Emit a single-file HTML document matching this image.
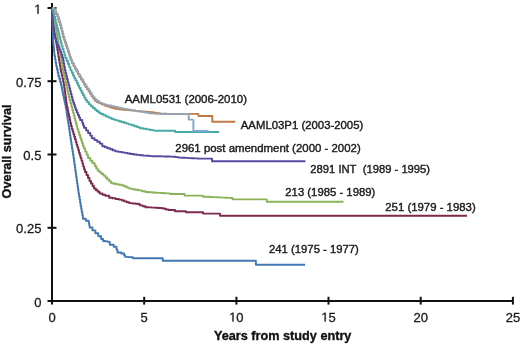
<!DOCTYPE html>
<html><head><meta charset="utf-8"><style>
html,body{margin:0;padding:0;background:#fff;}
body{width:520px;height:344px;overflow:hidden;}
svg{display:block;filter:blur(0.4px);}
text{font-family:"Liberation Sans",sans-serif;}
</style></head><body>
<svg width="520" height="344" viewBox="0 0 520 344">
<rect width="520" height="344" fill="#fff"/>
<g stroke="#111" stroke-width="2" fill="none">
<line x1="52" y1="3" x2="52" y2="302"/>
<line x1="51" y1="301" x2="513" y2="301"/>
<line x1="47.5" y1="8.0" x2="56.5" y2="8.0"/><line x1="47.5" y1="81.2" x2="56.5" y2="81.2"/><line x1="47.5" y1="154.5" x2="56.5" y2="154.5"/><line x1="47.5" y1="227.8" x2="56.5" y2="227.8"/><line x1="47.5" y1="301.0" x2="56.5" y2="301.0"/><line x1="52.0" y1="296.8" x2="52.0" y2="304.6"/><line x1="144.2" y1="296.8" x2="144.2" y2="304.6"/><line x1="236.4" y1="296.8" x2="236.4" y2="304.6"/><line x1="328.5" y1="296.8" x2="328.5" y2="304.6"/><line x1="420.7" y1="296.8" x2="420.7" y2="304.6"/><line x1="512.9" y1="296.8" x2="512.9" y2="304.6"/>
</g>
<g fill="none" stroke-width="1.9" stroke-linejoin="round" stroke-linecap="butt">
<path d="M52.0 8.0 L52.1 8.0 L52.1 11.0 L52.1 11.0 L52.1 14.0 L52.2 14.0 L52.2 17.0 L52.3 17.0 L52.3 20.0 L52.4 20.0 L52.4 23.0 L52.5 23.0 L52.5 26.0 L52.6 26.0 L52.6 29.0 L52.7 29.0 L52.7 32.0 L52.9 32.0 L52.9 35.2 L53.0 35.2 L53.0 38.5 L53.2 38.5 L53.2 41.8 L53.4 41.8 L53.4 45.0 L53.7 45.0 L53.7 47.8 L54.0 47.8 L54.0 50.5 L54.2 50.5 L54.2 53.2 L54.5 53.2 L54.5 56.0 L55.1 56.0 L55.1 59.3 L55.6 59.3 L55.6 62.7 L56.2 62.7 L56.2 66.0 L56.9 66.0 L56.9 69.3 L57.7 69.3 L57.7 72.7 L58.4 72.7 L58.4 76.0 L59.3 76.0 L59.3 79.0 L60.1 79.0 L60.1 82.0 L61.0 82.0 L61.0 85.0 L61.6 85.0 L61.6 87.8 L62.1 87.8 L62.1 90.5 L62.7 90.5 L62.7 93.2 L63.3 93.2 L63.3 96.0 L63.9 96.0 L63.9 98.9 L64.5 98.9 L64.5 101.8 L65.1 101.8 L65.1 104.6 L65.7 104.6 L65.7 107.5 L66.1 107.5 L66.1 110.1 L66.6 110.1 L66.6 112.8 L67.0 112.8 L67.0 115.4 L67.4 115.4 L67.4 118.0 L67.8 118.0 L67.8 120.7 L68.2 120.7 L68.2 123.3 L68.6 123.3 L68.6 126.0 L69.1 126.0 L69.1 129.2 L69.6 129.2 L69.6 132.4 L70.0 132.4 L70.0 135.6 L70.5 135.6 L70.5 138.8 L71.0 138.8 L71.0 142.0 L71.5 142.0 L71.5 145.2 L72.0 145.2 L72.0 148.4 L72.5 148.4 L72.5 151.6 L73.0 151.6 L73.0 154.8 L73.5 154.8 L73.5 158.0 L74.0 158.0 L74.0 161.2 L74.4 161.2 L74.4 164.4 L74.9 164.4 L74.9 167.6 L75.3 167.6 L75.3 170.8 L75.8 170.8 L75.8 174.0 L76.2 174.0 L76.2 177.2 L76.7 177.2 L76.7 180.4 L77.1 180.4 L77.1 183.6 L77.6 183.6 L77.6 186.8 L78.0 186.8 L78.0 190.0 L78.5 190.0 L78.5 193.2 L79.0 193.2 L79.0 196.4 L79.6 196.4 L79.6 199.6 L80.1 199.6 L80.1 202.8 L80.6 202.8 L80.6 206.0 L81.2 206.0 L81.2 209.0 L81.7 209.0 L81.7 212.0 L82.3 212.0 L82.3 215.0 L82.9 215.0 L82.9 218.8 L85.8 218.8 L85.8 220.8 L88.7 220.8 L88.7 222.7 L89.2 222.7 L89.2 225.1 L89.6 225.1 L89.6 227.5 L92.5 227.5 L92.5 230.4 L95.4 230.4 L95.4 233.3 L98.3 233.3 L98.3 236.2 L101.2 236.2 L101.2 239.0 L103.1 239.0 L103.1 241.0 L105.5 241.0 L105.5 241.4 L107.9 241.4 L107.9 241.9 L109.8 241.9 L109.8 244.8 L113.7 244.8 L113.7 246.7 L116.5 246.7 L116.5 249.6 L117.5 249.6 L117.5 252.5 L121.3 252.5 L121.3 253.5 L124.2 253.5 L124.2 255.4 L125.2 255.4 L125.2 256.9 L128.1 256.9 L128.1 257.1 L131.0 257.1 L131.0 257.3 L132.9 257.3 L132.9 258.3 L161.7 258.3 L162.7 258.3 L162.7 260.7 L255.9 260.7 L255.9 264.8 L305.0 264.8" stroke="#4178b4"/>
<path d="M52.0 8.0 L52.3 8.0 L52.3 11.5 L52.6 11.5 L52.6 15.0 L52.8 15.0 L52.8 17.5 L53.0 17.5 L53.0 20.0 L53.3 20.0 L53.3 23.3 L53.7 23.3 L53.7 26.7 L54.0 26.7 L54.0 30.0 L54.5 30.0 L54.5 32.9 L54.9 32.9 L54.9 35.7 L55.4 35.7 L55.4 38.6 L55.9 38.6 L55.9 41.4 L56.4 41.4 L56.4 44.3 L56.8 44.3 L56.8 47.1 L57.3 47.1 L57.3 50.0 L57.9 50.0 L57.9 53.3 L58.4 53.3 L58.4 56.7 L59.0 56.7 L59.0 60.0 L59.5 60.0 L59.5 63.0 L60.0 63.0 L60.0 66.0 L60.5 66.0 L60.5 69.0 L61.0 69.0 L61.0 72.0 L61.7 72.0 L61.7 75.2 L62.4 75.2 L62.4 78.5 L63.1 78.5 L63.1 81.8 L63.8 81.8 L63.8 85.0 L64.2 85.0 L64.2 88.0 L64.7 88.0 L64.7 91.0 L65.1 91.0 L65.1 94.0 L65.5 94.0 L65.5 97.0 L65.9 97.0 L65.9 99.6 L66.2 99.6 L66.2 102.2 L66.6 102.2 L66.6 104.9 L67.0 104.9 L67.0 107.5 L67.7 107.5 L67.7 110.6 L68.3 110.6 L68.3 113.7 L69.0 113.7 L69.0 116.8 L69.7 116.8 L69.7 119.8 L70.3 119.8 L70.3 122.9 L71.0 122.9 L71.0 126.0 L71.8 126.0 L71.8 128.7 L72.6 128.7 L72.6 131.3 L73.4 131.3 L73.4 134.0 L74.2 134.0 L74.2 136.7 L75.0 136.7 L75.0 139.3 L75.8 139.3 L75.8 142.0 L76.6 142.0 L76.6 144.7 L77.4 144.7 L77.4 147.3 L78.2 147.3 L78.2 150.0 L79.0 150.0 L79.0 152.7 L79.8 152.7 L79.8 155.3 L80.6 155.3 L80.6 158.0 L81.5 158.0 L81.5 160.8 L82.4 160.8 L82.4 163.6 L83.2 163.6 L83.2 166.4 L84.1 166.4 L84.1 169.2 L85.0 169.2 L85.0 172.0 L86.5 172.0 L86.5 175.0 L88.0 175.0 L88.0 178.0 L89.5 178.0 L89.5 181.0 L91.0 181.0 L91.0 183.5 L92.5 183.5 L92.5 186.0 L94.0 186.0 L94.0 188.5 L95.9 188.5 L95.9 190.2 L97.7 190.2 L97.7 191.8 L99.6 191.8 L99.6 193.5 L102.5 193.5 L102.5 194.7 L105.4 194.7 L105.4 195.8 L109.2 195.8 L109.2 197.7 L112.4 197.7 L112.4 198.3 L115.6 198.3 L115.6 199.0 L118.8 199.0 L118.8 199.6 L122.0 199.6 L122.0 200.5 L124.4 200.5 L124.4 201.4 L126.8 201.4 L126.8 202.2 L129.2 202.2 L129.2 203.1 L132.3 203.1 L132.3 203.5 L135.4 203.5 L135.4 203.8 L138.5 203.8 L138.5 204.2 L140.0 204.2 L140.0 205.4 L142.7 205.4 L142.7 206.3 L145.4 206.3 L145.4 207.2 L148.6 207.2 L148.6 207.4 L151.8 207.4 L151.8 207.6 L155.1 207.6 L155.1 207.8 L158.3 207.8 L158.3 208.0 L161.5 208.0 L161.5 208.2 L163.8 208.2 L163.8 208.8 L166.0 208.8 L166.0 209.5 L168.5 209.5 L168.5 210.0 L175.0 210.0 L175.0 211.2 L186.0 211.2 L186.0 212.2 L203.1 212.2 L203.1 213.6 L220.0 213.6 L220.0 215.8 L467.0 215.8" stroke="#7d2a4e"/>
<path d="M52.0 8.0 L52.8 8.0 L52.8 12.0 L53.2 12.0 L53.2 14.7 L53.6 14.7 L53.6 17.3 L54.0 17.3 L54.0 20.0 L54.7 20.0 L54.7 23.3 L55.3 23.3 L55.3 26.7 L56.0 26.7 L56.0 30.0 L56.5 30.0 L56.5 32.9 L57.0 32.9 L57.0 35.7 L57.5 35.7 L57.5 38.6 L58.0 38.6 L58.0 41.4 L58.5 41.4 L58.5 44.3 L59.0 44.3 L59.0 47.1 L59.5 47.1 L59.5 50.0 L60.1 50.0 L60.1 53.3 L60.6 53.3 L60.6 56.7 L61.2 56.7 L61.2 60.0 L61.7 60.0 L61.7 63.3 L62.3 63.3 L62.3 66.7 L62.8 66.7 L62.8 70.0 L63.4 70.0 L63.4 73.0 L64.1 73.0 L64.1 76.0 L64.7 76.0 L64.7 79.0 L65.4 79.0 L65.4 82.0 L66.0 82.0 L66.0 85.0 L66.7 85.0 L66.7 88.0 L67.4 88.0 L67.4 91.0 L68.1 91.0 L68.1 94.0 L68.8 94.0 L68.8 97.0 L69.5 97.0 L69.5 100.0 L70.4 100.0 L70.4 103.3 L71.4 103.3 L71.4 106.7 L72.3 106.7 L72.3 110.0 L73.0 110.0 L73.0 112.7 L73.8 112.7 L73.8 115.5 L74.5 115.5 L74.5 118.2 L75.2 118.2 L75.2 121.0 L75.9 121.0 L75.9 123.7 L76.7 123.7 L76.7 126.5 L77.4 126.5 L77.4 129.2 L78.3 129.2 L78.3 131.9 L79.2 131.9 L79.2 134.7 L80.1 134.7 L80.1 137.4 L81.1 137.4 L81.1 140.2 L82.0 140.2 L82.0 142.9 L82.9 142.9 L82.9 145.7 L83.8 145.7 L83.8 148.4 L85.2 148.4 L85.2 151.6 L86.6 151.6 L86.6 154.8 L88.0 154.8 L88.0 158.0 L90.3 158.0 L90.3 160.7 L92.5 160.7 L92.5 163.3 L94.8 163.3 L94.8 166.0 L96.2 166.0 L96.2 168.4 L97.7 168.4 L97.7 170.8 L99.6 170.8 L99.6 172.4 L101.6 172.4 L101.6 174.0 L103.5 174.0 L103.5 175.6 L105.4 175.6 L105.4 177.5 L107.3 177.5 L107.3 179.4 L109.3 179.4 L109.3 181.4 L111.2 181.4 L111.2 183.3 L113.7 183.3 L113.7 183.8 L116.3 183.8 L116.3 184.3 L118.8 184.3 L118.8 184.8 L122.0 184.8 L122.0 185.5 L124.4 185.5 L124.4 186.5 L126.8 186.5 L126.8 187.6 L129.2 187.6 L129.2 188.6 L132.3 188.6 L132.3 189.2 L135.4 189.2 L135.4 189.8 L138.5 189.8 L138.5 190.4 L141.9 190.4 L141.9 191.2 L145.4 191.2 L145.4 192.0 L148.7 192.0 L148.7 192.2 L152.0 192.2 L152.0 192.5 L154.8 192.5 L154.8 192.7 L157.7 192.7 L157.7 192.9 L160.5 192.9 L160.5 193.0 L163.4 193.0 L163.4 193.2 L166.2 193.2 L166.2 193.4 L170.0 193.4 L170.0 194.0 L184.6 194.0 L184.6 195.6 L203.1 195.6 L203.1 196.7 L206.2 196.7 L206.2 196.8 L209.3 196.8 L209.3 197.0 L212.3 197.0 L212.3 197.1 L215.4 197.1 L215.4 197.3 L218.5 197.3 L218.5 197.4 L221.6 197.4 L221.6 197.6 L224.6 197.6 L224.6 197.7 L227.7 197.7 L227.7 197.9 L230.8 197.9 L230.8 198.0 L232.5 198.0 L232.5 199.4 L266.8 199.4 L266.8 201.8 L343.5 201.8" stroke="#8cb35c"/>
<path d="M52.0 8.0 L52.2 8.0 L52.2 11.5 L52.5 11.5 L52.5 15.0 L52.7 15.0 L52.7 18.3 L52.8 18.3 L52.8 21.7 L53.0 21.7 L53.0 25.0 L53.3 25.0 L53.3 28.3 L53.7 28.3 L53.7 31.7 L54.0 31.7 L54.0 35.0 L55.0 35.0 L55.0 38.3 L56.0 38.3 L56.0 41.7 L57.0 41.7 L57.0 45.0 L58.2 45.0 L58.2 47.3 L59.3 47.3 L59.3 49.7 L60.5 49.7 L60.5 52.0 L61.3 52.0 L61.3 54.7 L62.2 54.7 L62.2 57.3 L63.0 57.3 L63.0 60.0 L63.6 60.0 L63.6 63.3 L64.2 63.3 L64.2 66.7 L64.8 66.7 L64.8 70.0 L65.5 70.0 L65.5 73.0 L66.3 73.0 L66.3 76.0 L67.0 76.0 L67.0 79.0 L67.8 79.0 L67.8 82.0 L68.5 82.0 L68.5 85.0 L69.3 85.0 L69.3 88.0 L70.1 88.0 L70.1 91.0 L70.8 91.0 L70.8 94.0 L71.6 94.0 L71.6 97.0 L72.4 97.0 L72.4 100.0 L73.2 100.0 L73.2 102.5 L74.1 102.5 L74.1 105.0 L74.9 105.0 L74.9 107.5 L75.7 107.5 L75.7 110.0 L76.8 110.0 L76.8 112.5 L77.9 112.5 L77.9 115.0 L79.0 115.0 L79.0 117.5 L80.1 117.5 L80.1 120.0 L82.2 120.0 L82.2 122.8 L83.1 122.8 L83.1 125.3 L84.0 125.3 L84.0 127.8 L86.1 127.8 L86.1 130.4 L88.1 130.4 L88.1 133.0 L90.2 133.0 L90.2 135.6 L91.9 135.6 L91.9 138.3 L94.5 138.3 L94.5 140.1 L97.2 140.1 L97.2 141.8 L99.8 141.8 L99.8 143.6 L102.3 143.6 L102.3 146.2 L104.9 146.2 L104.9 147.2 L107.5 147.2 L107.5 148.3 L110.2 148.3 L110.2 149.3 L112.8 149.3 L112.8 150.4 L115.4 150.4 L115.4 151.4 L118.5 151.4 L118.5 151.9 L121.5 151.9 L121.5 152.4 L124.5 152.4 L124.5 152.9 L127.6 152.9 L127.6 153.5 L130.6 153.5 L130.6 154.0 L133.7 154.0 L133.7 154.5 L136.8 154.5 L136.8 154.9 L140.0 154.9 L140.0 155.3 L143.2 155.3 L143.2 155.6 L146.4 155.6 L146.4 155.8 L149.6 155.8 L149.6 156.1 L152.5 156.1 L152.5 156.2 L155.4 156.2 L155.4 156.2 L158.3 156.2 L158.3 156.3 L161.1 156.3 L161.1 156.4 L164.0 156.4 L164.0 156.5 L166.9 156.5 L166.9 156.5 L169.8 156.5 L169.8 156.6 L172.7 156.6 L172.7 156.7 L175.6 156.7 L175.6 157.1 L178.5 157.1 L178.5 157.6 L181.7 157.6 L181.7 157.8 L184.9 157.8 L184.9 157.9 L188.1 157.9 L188.1 158.1 L191.3 158.1 L191.3 158.3 L194.5 158.3 L194.5 158.4 L197.7 158.4 L197.7 158.6 L212.0 158.6 L212.0 161.2 L305.4 161.2" stroke="#5847a0"/>
<path d="M52.0 8.0 L52.9 8.0 L52.9 10.8 L53.6 10.8 L53.6 13.7 L54.3 13.7 L54.3 16.6 L55.1 16.6 L55.1 19.5 L55.8 19.5 L55.8 22.4 L56.5 22.4 L56.5 25.3 L57.2 25.3 L57.2 28.2 L58.0 28.2 L58.0 31.2 L58.7 31.2 L58.7 34.1 L59.4 34.1 L59.4 37.0 L60.2 37.0 L60.2 39.9 L60.9 39.9 L60.9 42.8 L61.6 42.8 L61.6 45.7 L62.5 45.7 L62.5 48.8 L63.5 48.8 L63.5 51.9 L64.4 51.9 L64.4 54.9 L65.3 54.9 L65.3 58.0 L66.7 58.0 L66.7 61.0 L68.0 61.0 L68.0 64.0 L69.2 64.0 L69.2 67.1 L70.4 67.1 L70.4 70.2 L71.7 70.2 L71.7 72.8 L73.0 72.8 L73.0 75.5 L74.2 75.5 L74.2 78.0 L75.5 78.0 L75.5 80.4 L76.8 80.4 L76.8 83.0 L78.0 83.0 L78.0 85.5 L79.2 85.5 L79.2 88.0 L80.5 88.0 L80.5 90.5 L81.8 90.5 L81.8 92.9 L83.0 92.9 L83.0 95.3 L84.3 95.3 L84.3 97.8 L85.6 97.8 L85.6 100.3 L87.3 100.3 L87.3 102.3 L89.0 102.3 L89.0 104.4 L90.9 104.4 L90.9 106.2 L92.8 106.2 L92.8 108.0 L94.8 108.0 L94.8 109.7 L96.8 109.7 L96.8 111.3 L98.8 111.3 L98.8 112.7 L100.9 112.7 L100.9 114.0 L103.5 114.0 L103.5 115.2 L106.0 115.2 L106.0 116.5 L108.5 116.5 L108.5 117.6 L111.1 117.6 L111.1 118.7 L113.5 118.7 L113.5 119.6 L116.0 119.6 L116.0 120.4 L118.7 120.4 L118.7 121.2 L121.3 121.2 L121.3 122.0 L123.8 122.0 L123.8 122.8 L126.4 122.8 L126.4 123.6 L128.9 123.6 L128.9 124.4 L131.5 124.4 L131.5 125.2 L134.3 125.2 L134.3 126.2 L137.2 126.2 L137.2 127.2 L140.0 127.2 L140.0 128.2 L143.3 128.2 L143.3 128.8 L146.7 128.8 L146.7 129.4 L150.0 129.4 L150.0 130.0 L152.5 130.0 L152.5 130.4 L155.0 130.4 L155.0 130.8 L175.3 130.8 L175.3 132.0 L219.0 132.0" stroke="#48aaa4"/>
<path d="M52.0 8.0 L54.4 8.0 L54.4 10.8 L55.8 10.8 L55.8 13.7 L57.3 13.7 L57.3 16.6 L58.3 16.6 L58.3 19.5 L59.2 19.5 L59.2 22.4 L60.2 22.4 L60.2 25.3 L60.9 25.3 L60.9 28.2 L61.7 28.2 L61.7 31.1 L62.4 31.1 L62.4 34.1 L63.1 34.1 L63.1 37.0 L64.1 37.0 L64.1 39.9 L65.0 39.9 L65.0 42.8 L66.0 42.8 L66.0 45.7 L67.0 45.7 L67.0 48.6 L67.9 48.6 L67.9 51.5 L68.9 51.5 L68.9 54.4 L69.8 54.4 L69.8 57.2 L70.6 57.2 L70.6 60.0 L72.0 60.0 L72.0 63.0 L73.5 63.0 L73.5 66.0 L75.0 66.0 L75.0 68.8 L76.5 68.8 L76.5 71.5 L78.0 71.5 L78.0 74.2 L79.5 74.2 L79.5 77.0 L81.0 77.0 L81.0 79.5 L82.6 79.5 L82.6 82.0 L84.0 82.0 L84.0 84.5 L85.5 84.5 L85.5 87.0 L87.1 87.0 L87.1 89.2 L88.7 89.2 L88.7 91.5 L90.1 91.5 L90.1 93.9 L91.5 93.9 L91.5 96.3 L93.2 96.3 L93.2 98.5 L94.8 98.5 L94.8 100.7 L96.8 100.7 L96.8 102.0 L98.9 102.0 L98.9 103.2 L102.0 103.2 L102.0 104.5 L105.0 104.5 L105.0 105.8 L107.7 105.8 L107.7 106.6 L110.4 106.6 L110.4 107.5 L113.1 107.5 L113.1 108.3 L115.8 108.3 L115.8 108.7 L118.6 108.7 L118.6 109.2 L121.3 109.2 L121.3 109.6 L124.1 109.6 L124.1 109.9 L127.0 109.9 L127.0 110.1 L129.8 110.1 L129.8 110.4 L132.7 110.4 L132.7 110.6 L135.5 110.6 L135.5 110.9 L138.4 110.9 L138.4 111.2 L141.3 111.2 L141.3 111.4 L144.2 111.4 L144.2 111.7 L147.1 111.7 L147.1 111.9 L150.0 111.9 L150.0 112.2 L153.3 112.2 L153.3 112.7 L156.7 112.7 L156.7 113.1 L160.0 113.1 L160.0 113.6 L163.4 113.6 L163.4 113.8 L166.9 113.8 L166.9 113.9 L198.4 113.9 L198.4 116.0 L212.3 116.0 L212.3 121.8 L235.3 121.8" stroke="#bf7a48"/>
<path d="M52.0 8.0 L54.6 8.0 L54.6 10.6 L56.1 10.6 L56.1 13.4 L57.6 13.4 L57.6 16.3 L58.6 16.3 L58.6 19.2 L59.5 19.2 L59.5 22.1 L60.5 22.1 L60.5 25.0 L61.2 25.0 L61.2 27.9 L62.0 27.9 L62.0 30.9 L62.7 30.9 L62.7 33.8 L63.4 33.8 L63.4 36.7 L64.4 36.7 L64.4 39.6 L65.3 39.6 L65.3 42.5 L66.3 42.5 L66.3 45.4 L67.3 45.4 L67.3 48.3 L68.2 48.3 L68.2 51.2 L69.2 51.2 L69.2 54.1 L70.0 54.1 L70.0 57.0 L70.8 57.0 L70.8 60.0 L72.2 60.0 L72.2 63.0 L73.7 63.0 L73.7 66.0 L75.2 66.0 L75.2 68.7 L76.7 68.7 L76.7 71.3 L78.2 71.3 L78.2 73.9 L79.7 73.9 L79.7 76.5 L81.2 76.5 L81.2 79.0 L82.8 79.0 L82.8 81.5 L84.2 81.5 L84.2 84.0 L85.7 84.0 L85.7 86.5 L87.2 86.5 L87.2 88.5 L88.7 88.5 L88.7 90.5 L90.2 90.5 L90.2 93.0 L91.8 93.0 L91.8 95.6 L93.3 95.6 L93.3 97.5 L94.8 97.5 L94.8 99.5 L96.8 99.5 L96.8 101.0 L98.9 101.0 L98.9 102.6 L101.5 102.6 L101.5 103.6 L104.0 103.6 L104.0 104.6 L107.5 104.6 L107.5 105.4 L111.1 105.4 L111.1 106.3 L114.5 106.3 L114.5 107.0 L117.9 107.0 L117.9 107.7 L121.3 107.7 L121.3 108.4 L124.1 108.4 L124.1 108.9 L127.0 108.9 L127.0 109.4 L129.8 109.4 L129.8 109.9 L132.7 109.9 L132.7 110.4 L135.5 110.4 L135.5 110.9 L138.4 110.9 L138.4 111.4 L141.3 111.4 L141.3 111.9 L144.2 111.9 L144.2 112.4 L147.1 112.4 L147.1 112.9 L150.0 112.9 L150.0 113.4 L153.3 113.4 L153.3 113.6 L156.7 113.6 L156.7 113.8 L160.0 113.8 L160.0 114.0 L188.7 114.0 L188.7 119.6 L193.4 119.6" stroke="#97a2b3"/>
<path d="M193.4 119.6 L193.4 131.0 L208.5 131.0" stroke="#7fa5d4"/>
</g>
<g font-size="13" fill="#1a1a1a" stroke="#1a1a1a" stroke-width="0.3"><path transform="translate(34.17 13.70) scale(0.006348 -0.006348)" stroke-width="47" d="M515 0L515 1237L197 1010L197 1180L530 1409L696 1409L696 0Z"/><text x="41.4" y="87.0" text-anchor="end">0.75</text><text x="41.4" y="160.2" text-anchor="end">0.5</text><text x="41.4" y="233.4" text-anchor="end">0.25</text><text x="41.4" y="306.7" text-anchor="end">0</text><text x="52.0" y="321.6" text-anchor="middle">0</text><text x="144.2" y="321.6" text-anchor="middle">5</text><path transform="translate(229.13 321.60) scale(0.006348 -0.006348)" stroke-width="47" d="M515 0L515 1237L197 1010L197 1180L530 1409L696 1409L696 0Z"/><text x="236.36" y="321.6">0</text><path transform="translate(321.31 321.60) scale(0.006348 -0.006348)" stroke-width="47" d="M515 0L515 1237L197 1010L197 1180L530 1409L696 1409L696 0Z"/><text x="328.54" y="321.6">5</text><text x="420.7" y="321.6" text-anchor="middle">20</text><text x="512.9" y="321.6" text-anchor="middle">25</text></g>
<g font-size="11.5" fill="#1a1a1a" stroke="#1a1a1a" stroke-width="0.4"><text x="124.7" y="103.3" textLength="122.3" lengthAdjust="spacingAndGlyphs">AAML0531 (2006-2010)</text><text x="240.8" y="129.4" textLength="122.5" lengthAdjust="spacingAndGlyphs">AAML03P1 (2003-2005)</text><text x="175.3" y="152.3" textLength="185.4" lengthAdjust="spacingAndGlyphs">2961 post amendment (2000 - 2002)</text><text x="310.3" y="172.5" textLength="119.8" lengthAdjust="spacingAndGlyphs">2891 INT&#160;&#160;(1989 - 1995)</text><text x="285.3" y="196.3" textLength="90.0" lengthAdjust="spacingAndGlyphs">213 (1985 - 1989)</text><text x="385.3" y="211.3" textLength="90.4" lengthAdjust="spacingAndGlyphs">251 (1979 - 1983)</text><text x="269.0" y="253.4" textLength="89.9" lengthAdjust="spacingAndGlyphs">241 (1975 - 1977)</text></g>
<text x="214" y="339.6" font-size="13" font-weight="bold" fill="#111" stroke="#111" stroke-width="0.35" textLength="137.4" lengthAdjust="spacingAndGlyphs">Years from study entry</text>
<text transform="translate(11.4 198.4) rotate(-90)" x="0" y="0" font-size="13" font-weight="bold" fill="#111" stroke="#111" stroke-width="0.35" textLength="93.8" lengthAdjust="spacingAndGlyphs">Overall survival</text>
</svg>
</body></html>
